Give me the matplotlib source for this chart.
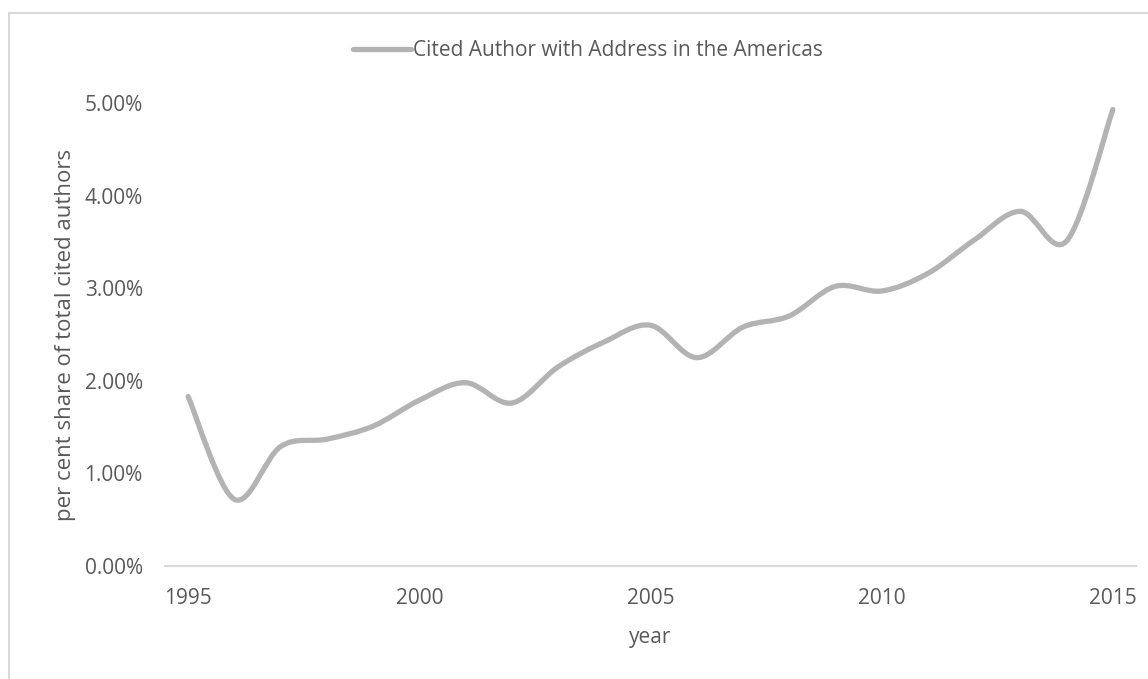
import matplotlib
matplotlib.use("Agg")
import matplotlib.pyplot as plt
from matplotlib.path import Path
from matplotlib.patches import PathPatch, Rectangle
from matplotlib.lines import Line2D
from matplotlib.ticker import FuncFormatter

years = list(range(1995, 2016))
share_pct = [1.83, 0.72, 1.29, 1.37, 1.51, 1.79, 1.98, 1.76, 2.15, 2.42, 2.60,
             2.25, 2.58, 2.70, 3.02, 2.97, 3.16, 3.52, 3.83, 3.51, 4.93]
series_label = "Cited Author with Address in the Americas"
x_ticks = [1995, 2000, 2005, 2010, 2015]
y_ticks = [0, 1, 2, 3, 4, 5]

LINE = "#b3b3b3"
TEXT = "#595959"
FONT = "Open Sans"


def smooth_path(xs, ys):
    """Excel-style smoothed line: cubic Bezier through every point."""
    pts = list(zip(xs, ys))
    verts = [pts[0]]
    codes = [Path.MOVETO]
    n = len(pts)
    for i in range(n - 1):
        p0 = pts[max(i - 1, 0)]
        p1 = pts[i]
        p2 = pts[i + 1]
        p3 = pts[min(i + 2, n - 1)]
        c1 = (p1[0] + (p2[0] - p0[0]) / 6, p1[1] + (p2[1] - p0[1]) / 6)
        c2 = (p2[0] - (p3[0] - p1[0]) / 6, p2[1] - (p3[1] - p1[1]) / 6)
        verts += [c1, c2, p2]
        codes += [Path.CURVE4] * 3
    return Path(verts, codes)


fig = plt.figure(figsize=(11.48, 6.79), dpi=100)
ax = fig.add_axes([165 / 1148, 113 / 679, 971 / 1148, 463 / 679])

ax.add_patch(PathPatch(smooth_path(years, share_pct), fill=False,
                       edgecolor=LINE, linewidth=3.8, capstyle="round",
                       joinstyle="round"))
ax.set_xlim(1994.5, 2015.5)
ax.set_ylim(0, 5)

ax.set_xticks(x_ticks)
ax.set_yticks(y_ticks)
ax.yaxis.set_major_formatter(FuncFormatter(lambda v, _: "%.2f%%" % v))
ax.tick_params(length=0, labelsize=15, labelcolor=TEXT)
ax.tick_params(axis="x", pad=16)
ax.tick_params(axis="y", pad=16)
for lab in ax.get_xticklabels() + ax.get_yticklabels():
    lab.set_fontfamily(FONT)

for side in ("top", "right", "left"):
    ax.spines[side].set_visible(False)
ax.spines["bottom"].set_color("#d9d9d9")
ax.spines["bottom"].set_linewidth(1.5)

ax.set_xlabel("year", fontsize=15, color=TEXT, fontfamily=FONT, labelpad=13)
ax.set_ylabel("per cent share of total cited authors", fontsize=16,
              color=TEXT, fontfamily=FONT, labelpad=6)

handle = Line2D([], [], color=LINE, linewidth=3.8, solid_capstyle="round")
fig.legend([handle], [series_label], loc="center",
           bbox_to_anchor=(588 / 1148, 1 - 51 / 679), frameon=False,
           handlelength=2.8, handletextpad=0.1,
           prop={"family": FONT, "size": 15}, labelcolor=TEXT)

# chart area border
fig.patches.append(Rectangle((9 / 1148, -0.1), 1.2, 1 - 13 / 679 + 0.1,
                             transform=fig.transFigure, fill=False,
                             edgecolor="#d9d9d9", linewidth=1.5))

fig.savefig("out.png", dpi=100)
